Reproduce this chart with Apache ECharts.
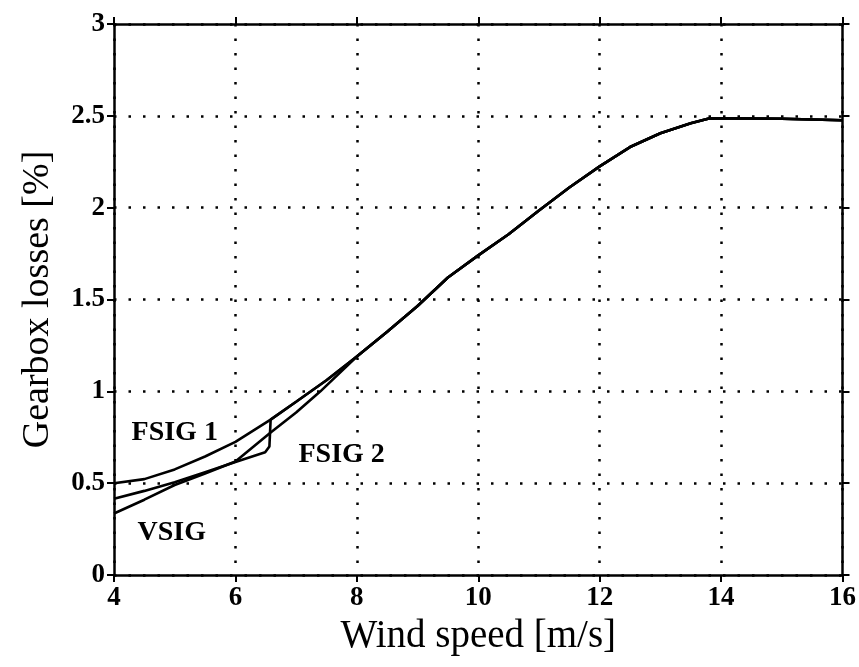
<!DOCTYPE html>
<html>
<head>
<meta charset="utf-8">
<script src="https://cdn.jsdelivr.net/npm/echarts@6/dist/echarts.min.js"></script>
<style>
  html, body { margin: 0; padding: 0; background: #fff; }
  #chart { width: 859px; height: 667px; }
</style>
</head>
<body>
<div id="chart"></div>
<script>
// Gearbox losses versus wind speed for three generator concepts
const xTicks = [4, 6, 8, 10, 12, 14, 16];
const yTicks = [0, 0.5, 1, 1.5, 2, 2.5, 3];

// Shared upper part of the curves (all three coincide above ~8 m/s)
const commonWind   = [8, 8.5, 9, 9.5, 10, 10.5, 11, 11.5, 12, 12.5, 13, 13.5, 13.8, 14, 15, 16];
const commonLosses = [1.19, 1.325, 1.465, 1.62, 1.74, 1.855, 1.985, 2.11, 2.225, 2.33, 2.405, 2.46, 2.485, 2.487, 2.484, 2.476];

// Low wind speed part of each curve
const fsig1Wind   = [4, 4.5, 5, 5.5, 6, 6.58, 7, 7.5];
const fsig1Losses = [0.50, 0.522, 0.575, 0.645, 0.725, 0.846, 0.943, 1.06];

const fsig2Wind   = [4, 4.5, 5, 5.5, 6, 6.49, 6.56, 6.58, 7, 7.5];
const fsig2Losses = [0.415, 0.458, 0.505, 0.56, 0.615, 0.668, 0.70, 0.846, 0.943, 1.06];

const vsigWind   = [4, 4.5, 5, 5.5, 6, 6.57, 7, 7.4];
const vsigLosses = [0.335, 0.41, 0.49, 0.553, 0.618, 0.773, 0.885, 1.0];

// Curve labels and where they sit (data coordinates)
const labelNames = ['FSIG 1', 'FSIG 2', 'VSIG'];
const labelWind  = [5.0, 7.75, 4.95];
const labelLoss  = [0.775, 0.655, 0.23];

function pairs(xs, ys) { return xs.map((x, i) => [x, ys[i]]); }
function withCommon(xs, ys) { return pairs(xs, ys).concat(pairs(commonWind, commonLosses)); }

const serif = '"Liberation Serif", "DejaVu Serif", serif';
const ink = '#000';

const gridLine = { show: true, lineStyle: { color: ink, width: 2.5, type: [2.5, 12] } };
const frameLine = { show: true, onZero: false, lineStyle: { color: ink, width: 2.5 } };
const outTick = { show: true, inside: false, length: 7, lineStyle: { color: ink, width: 2 } };

const chart = echarts.init(document.getElementById('chart'), null, { renderer: 'canvas' });

const lineSeries = (name, data) => ({
  name, type: 'line', data, showSymbol: false, symbol: 'none',
  lineStyle: { color: ink, width: 2.6 }, z: 5, silent: true
});

chart.setOption({
  animation: false,
  backgroundColor: '#fff',
  grid: { left: 114, top: 24, width: 729, height: 551 },
  xAxis: [
    {
      type: 'value', min: xTicks[0], max: xTicks[xTicks.length - 1], interval: 2,
      name: 'Wind speed [m/s]', nameLocation: 'middle', nameGap: 34,
      nameTextStyle: { fontFamily: serif, fontSize: 39, color: ink },
      axisLine: frameLine, axisTick: outTick,
      axisLabel: { fontFamily: serif, fontSize: 27, fontWeight: 'bold', color: ink, margin: 10 },
      splitLine: gridLine
    },
    {
      type: 'value', position: 'top', min: xTicks[0], max: xTicks[xTicks.length - 1], interval: 2,
      axisLine: frameLine, axisTick: outTick, axisLabel: { show: false }, splitLine: { show: false }
    }
  ],
  yAxis: [
    {
      type: 'value', min: yTicks[0], max: yTicks[yTicks.length - 1], interval: 0.5,
      name: 'Gearbox losses [%]', nameLocation: 'middle', nameGap: 57,
      nameTextStyle: { fontFamily: serif, fontSize: 38, color: ink },
      axisLine: frameLine, axisTick: outTick,
      axisLabel: { fontFamily: serif, fontSize: 27, fontWeight: 'bold', color: ink, margin: 9 },
      splitLine: gridLine
    },
    {
      type: 'value', position: 'right', min: yTicks[0], max: yTicks[yTicks.length - 1], interval: 0.5,
      axisLine: frameLine, axisTick: outTick, axisLabel: { show: false }, splitLine: { show: false }
    }
  ],
  series: [
    lineSeries('FSIG 1', withCommon(fsig1Wind, fsig1Losses)),
    lineSeries('FSIG 2', withCommon(fsig2Wind, fsig2Losses)),
    lineSeries('VSIG', withCommon(vsigWind, vsigLosses)),
    {
      type: 'scatter', symbolSize: 0, silent: true, z: 6,
      itemStyle: { opacity: 1, color: ink },
      data: labelNames.map((n, i) => ({ value: [labelWind[i], labelLoss[i]], name: n })),
      label: {
        show: true, position: 'inside', formatter: p => p.name, opacity: 1,
        fontFamily: serif, fontSize: 28, fontWeight: 'bold', color: ink,
        textBorderWidth: 0
      }
    }
  ]
});
</script>
</body>
</html>
